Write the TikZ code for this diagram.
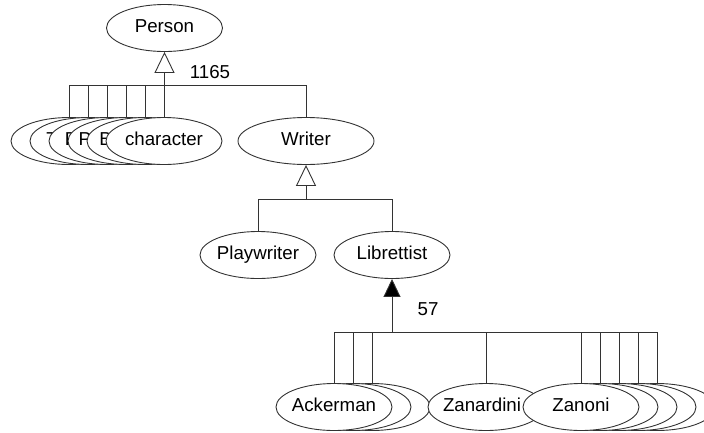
\documentclass[tikz,border=0pt]{standalone}
\usepackage{fontspec}
\setmainfont{Liberation Sans}
\usetikzlibrary{shapes.geometric,arrows.meta,backgrounds}
\newcommand\elltext[1]{\makebox[0pt]{\vphantom{Ay}#1}}
\begin{document}
\begin{tikzpicture}[x=1pt,y=-1pt,
  cls/.style={ellipse, draw=black!80, line width=0.9pt, fill=white,
    minimum width=116pt, minimum height=47pt, inner sep=0pt,
    font=\fontsize{18.7}{22}\selectfont},
  wide/.style={cls, minimum width=136pt},
  conn/.style={draw=black!80, line width=0.9pt},
  gen/.style={conn, -{Triangle[open, length=21pt, width=20pt]}},
  genf/.style={conn, -{Triangle[length=18pt, width=17pt, fill=black]}},
  lab/.style={font=\fontsize{18.7}{22}\selectfont, inner sep=0pt}]
\useasboundingbox (0,0) rectangle (704,432);
\clip (0,0) rectangle (704,432);

% top
\node[cls] (person) at (164.5,28) {\elltext{Person}};
% left stack (rightmost on top)
\node[cls] (s1) at (69,141) {\elltext{Patron}};
\node[cls] (s2) at (88,141) {\elltext{Translator}};
\node[cls] (s3) at (107,141) {\elltext{Dedicatee}};
\node[cls] (s4) at (126,141) {\elltext{Protagonist}};
\node[cls] (s5) at (145,141) {\elltext{Biographer}};
\node[cls] (character) at (164,141) {\elltext{character}};
\node[wide] (writer) at (306,141) {\elltext{Writer}};

\node[cls] (playwriter) at (258,255) {\elltext{Playwriter}};
\node[cls] (librettist) at (392,255) {\elltext{Librettist}};

% bottom
\node[cls] (a3) at (372,407) {};
\node[cls] (a2) at (353,407) {};
\node[cls] (ackerman) at (334,407) {\elltext{Ackerman}};
\node[cls] (zanardini) at (486,407) {\elltext{\kern-8pt Zanardini}};
\node[cls] (z5) at (657,407) {};
\node[cls] (z4) at (638,407) {};
\node[cls] (z3) at (619,407) {};
\node[cls] (z2) at (600,407) {};
\node[cls] (zanoni) at (581,407) {\elltext{Zanoni}};

\coordinate (j1) at (164.5,85);
\coordinate (j2) at (306,199);
\coordinate (j3) at (392,332);

\node[lab] (n1165) at (210,72) {1165};
\node[lab] (n57) at (428,309) {57};

\begin{scope}[on background layer]
  \foreach \c in {s1,s2,s3,s4,s5,character,writer}
    \draw[conn] (\c.north) |- (j1);
  \draw[gen] (j1) -- (person.south);
  \foreach \c in {playwriter,librettist}
    \draw[conn] (\c.north) |- (j2);
  \draw[gen] (j2) -- (writer.south);
  \foreach \c in {ackerman,a2,a3,zanardini,zanoni,z2,z3,z4,z5}
    \draw[conn] (\c.north) |- (j3);
  \draw[genf] (j3) -- (librettist.south);
\end{scope}
\end{tikzpicture}
\end{document}
